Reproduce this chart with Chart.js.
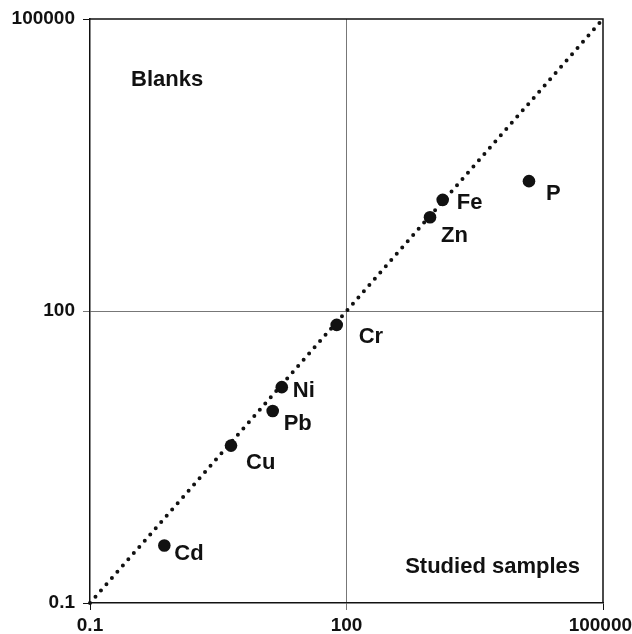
<!DOCTYPE html>
<html>
<head>
<meta charset="utf-8">
<script src="https://cdn.jsdelivr.net/npm/chart.js@4"></script>
<style>
  body { margin: 0; background: #fff; }
  #wrap { width: 632px; height: 634px; }
</style>
</head>
<body>
<div id="wrap"><canvas id="chart"></canvas></div>
<script>
// data
const elements = ['Cd', 'Cu', 'Pb', 'Ni', 'Cr', 'Zn', 'Fe', 'P'];
const xValues = [0.74, 4.46, 13.7, 17.5, 76.8, 948, 1334, 13620];
const yValues = [0.39, 4.14, 9.4, 16.5, 72, 920, 1387, 2158];
const tickValues = [0.1, 100, 100000];
const lineEnds = [0.1, 100000];
const regionLabels = ['Blanks', 'Studied samples'];

// where each element name sits relative to its dot (px)
const labelOffsets = [[10, 8], [15, 17], [11, 13], [11, 4], [22, 12], [11, 19], [14, 3], [17, 13]];

const FONT = '"Liberation Sans", Arial, Helvetica, sans-serif';
const INK = '#111';

const points = elements.map((e, i) => ({ x: xValues[i], y: yValues[i] }));
const diag = lineEnds.map(v => ({ x: v, y: v }));

// frame (top + right) and text labels
const extras = {
    id: 'extras',
    beforeDatasetsDraw(chart) {
        const { ctx, chartArea: a } = chart;
        ctx.save();
        ctx.strokeStyle = INK;
        ctx.lineWidth = 1.5;
        ctx.beginPath();
        ctx.moveTo(a.left, a.top);
        ctx.lineTo(a.right, a.top);
        ctx.lineTo(a.right, a.bottom);
        ctx.stroke();
        ctx.restore();
    },
    afterDatasetsDraw(chart) {
        const { ctx, chartArea: a } = chart;
        const meta = chart.getDatasetMeta(0);
        ctx.save();
        ctx.fillStyle = INK;
        ctx.font = 'bold 22px ' + FONT;
        ctx.textBaseline = 'middle';
        ctx.textAlign = 'left';
        meta.data.forEach((pt, i) => {
            ctx.fillText(elements[i], pt.x + labelOffsets[i][0], pt.y + labelOffsets[i][1]);
        });
        ctx.fillText(regionLabels[0], a.left + 41, a.top + 61);
        ctx.textAlign = 'right';
        ctx.fillText(regionLabels[1], a.right - 23, a.bottom - 36);
        ctx.restore();
    }
};

function axis(isX) {
    return {
        type: 'logarithmic',
        min: 0.1,
        max: 100000,
        afterBuildTicks: s => { s.ticks = tickValues.map(v => ({ value: v })); },
        afterFit: s => {
            if (isX) {
                s.height = 31;
                s.paddingLeft = 0;
                s.paddingRight = 0;
            } else {
                s.width = 90;
                s.paddingTop = 0;
                s.paddingBottom = 0;
            }
        },
        ticks: {
            autoSkip: false,
            maxRotation: 0,
            padding: isX ? 4 : 8,
            color: INK,
            font: { family: FONT, size: 19, weight: 'bold' },
            // trailing space nudges the last x label left like the original
            callback: v => (isX && v === 100000) ? '100000 ' : String(v)
        },
        grid: {
            color: c => (c.tick && c.tick.value === 100) ? '#777' : 'rgba(0,0,0,0)',
            tickColor: c => (c.tick && c.tick.value === 100) ? '#777' : INK,
            tickLength: 7,
            lineWidth: 1
        },
        border: { color: INK, width: 1.5 }
    };
}

new Chart(document.getElementById('chart'), {
    type: 'scatter',
    data: {
        datasets: [
            {
                data: points,
                backgroundColor: INK,
                borderWidth: 0,
                pointRadius: 6.3,
                pointHoverRadius: 6.3,
                order: 1
            },
            {
                type: 'line',
                data: diag,
                borderColor: INK,
                borderWidth: 4,
                borderDash: [0, 8.3],
                borderCapStyle: 'round',
                pointRadius: 0,
                fill: false,
                clip: false,
                order: 2
            }
        ]
    },
    options: {
        responsive: true,
        maintainAspectRatio: false,
        animation: false,
        layout: { padding: { top: 19, right: 29, left: 0, bottom: 0 } },
        plugins: { legend: { display: false }, tooltip: { enabled: false } },
        scales: { x: axis(true), y: axis(false) }
    },
    plugins: [extras]
});
</script>
</body>
</html>
